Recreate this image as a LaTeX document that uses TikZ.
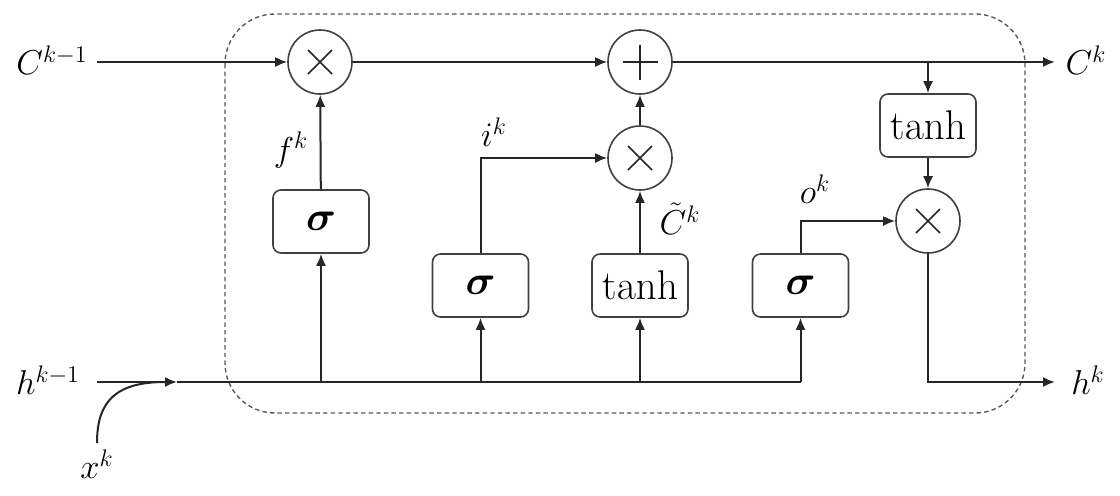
\documentclass[tikz,border=0pt]{standalone}
\usepackage{amsmath}
\usetikzlibrary{arrows.meta}
\begin{document}
\begin{tikzpicture}[x=0.5pt,y=-0.5pt,
  ln/.style={line width=1pt,draw=black!85},
  arr/.style={ln,-{Latex[length=6pt,width=5pt]}},
  opnode/.style={circle,draw=black!75,line width=0.8pt,minimum size=32pt,inner sep=0pt},
  timesop/.style={opnode,path picture={\draw[line width=0.8pt,black!85] (path picture bounding box.center) +(-12,-12) -- +(12,12) +(-12,12) -- +(12,-12);}},
  plusop/.style={opnode,path picture={\draw[line width=0.8pt,black!85] (path picture bounding box.center) +(-17.5,0) -- +(17.5,0) +(0,-17.5) -- +(0,17.5);}},
  gate/.style={draw=black!75,line width=0.8pt,rounded corners=4pt,minimum width=48pt,minimum height=31.5pt,inner sep=0pt,font=\fontsize{20}{24}\selectfont},
  lbl/.style={inner sep=0pt,font=\fontsize{17}{20}\selectfont}
]
\useasboundingbox (0,0) rectangle (1120,495);
% dashed cell border
\draw[dashed,dash pattern=on 2.2pt off 1.6pt,draw=black!65,line width=0.7pt,rounded corners=25pt] (225,14) rectangle (1025,413);

% operation nodes
\node[timesop] (mulf) at (320,62) {};
\node[plusop]  (add)  at (640,62) {};
\node[timesop] (muli) at (640,158) {};
\node[timesop] (mulo) at (928,221) {};

% gates
\node[gate] (sigf) at (321,221.5) {$\boldsymbol{\sigma}$};
\node[gate] (sigi) at (480.5,285.5) {$\boldsymbol{\sigma}$};
\node[gate] (tanhc) at (640,285.5) {$\tanh$};
\node[gate] (sigo) at (800.5,285.5) {$\boldsymbol{\sigma}$};
\node[gate] (tanhh) at (928,125.5) {$\tanh$};

% outer labels
\node[lbl] (cin) at (52,60) {$C^{k-1}$};
\node[lbl] (hin) at (48,380) {$h^{k-1}$};
\node[lbl] (xin) at (97,464) {$x^k$};
\node[lbl] (cout) at (1086,60) {$C^k$};
\node[lbl] (hout) at (1088,380) {$h^k$};

% coordinates
\coordinate (cs) at (97,62);
\coordinate (ce) at (1055,62);
\coordinate (hs) at (97,382);
\coordinate (he) at (1055,382);
\coordinate (xs) at (97,443);
\coordinate (hm) at (177,382);
\coordinate (cb) at (928,62);
\coordinate (j1) at (321,382);
\coordinate (j2) at (480.5,382);
\coordinate (j3) at (640,382);
\coordinate (j4) at (800.5,382);

% cell state line
\draw[arr] (cs) -- (mulf);
\draw[arr] (mulf) -- (add);
\draw[arr] (add) -- (ce);
\draw[arr] (cb) -- (tanhh);
\draw[arr] (tanhh) -- (mulo);
\draw[arr] (mulo) |- (he);

% hidden input line
\draw[arr] (hs) -- (hm);
\draw[ln] (hm) -- (j4);
\draw[ln] (xs) .. controls (97,402) and (115,382) .. (165,382);

% gate feeds
\draw[arr] (j1) -- (sigf);
\draw[arr] (j2) -- (sigi);
\draw[arr] (j3) -- (tanhc);
\draw[arr] (j4) -- (sigo);

% gate outputs
\draw[arr] (sigf) -- (mulf);
\draw[arr] (sigi.north) |- (muli);
\draw[arr] (tanhc) -- (muli);
\draw[arr] (muli) -- (add);
\draw[arr] (sigo.north) |- (mulo);

% gate labels
\node[lbl] (fk) at (291,150) {$f^k$};
\node[lbl] (ik) at (494,132) {$i^k$};
\node[lbl] (ck) at (680,219) {$\tilde{C}^k$};
\node[lbl] (ok) at (815,189) {$o^k$};
\end{tikzpicture}
\end{document}
